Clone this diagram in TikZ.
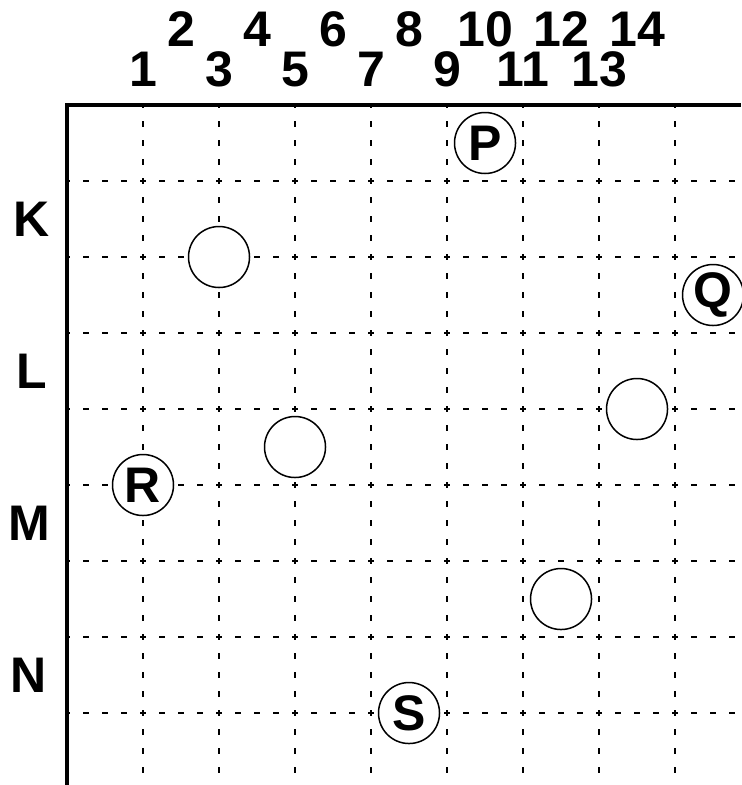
\documentclass[tikz,border=0pt]{standalone}
\usepackage{fontspec}
\setmainfont{Liberation Sans}
\usepackage{tikz}
\usetikzlibrary{positioning}

\begin{document}
\begin{tikzpicture}[
  x=38pt, y=-38pt,
  font=\fontsize{25}{30}\selectfont\bfseries,
  gridline/.style={line width=0.55pt, dash pattern=on 2.8pt off 6.7pt, dash phase=1.4pt},
  axisline/.style={line width=1.8pt, line join=miter},
  spot/.style={draw, circle, fill=white, line width=0.75pt, minimum size=30.5pt, inner sep=0pt},
  lbl/.style={inner sep=0pt}
]
\useasboundingbox (-0.8816,-1.3816) rectangle (8.8684,8.947);
\coordinate (corner) at (0,0);
\coordinate (axisend) at (0,8.947);
\coordinate (axisright) at (8.8684,0);
\foreach \i in {1,...,8} {
  \draw[gridline] (0,\i) -- (8.8684,\i);
  \draw[gridline] (\i,0) -- (\i,8.947);
}
\draw[axisline] (axisend) -- (corner) -- (axisright);
\foreach \k in {1,3,...,13} \node[lbl] (col\k) at ({(\k+1)/2},-0.47) {\k};
\foreach \k in {2,4,...,14} \node[lbl] (col\k) at ({(\k+1)/2},-1.0) {\k};
\node[lbl] (rowK) at (-0.47,1.5) {K};
\node[lbl] (rowL) at (-0.47,3.5) {L};
\node[lbl] (rowM) at (-0.5,5.5) {M};
\node[lbl] (rowN) at (-0.5,7.5) {N};
\node[spot] (P) at (5.5,0.5) {P};
\node[spot] (Q) at (8.5,2.5) {Q};
\node[spot] (R) at (1,5) {R};
\node[spot] (S) at (4.5,8) {S};
\node[spot] (ring1) at (2,2) {};
\node[spot] (ring2) at (7.5,4) {};
\node[spot] (ring3) at (3,4.5) {};
\node[spot] (ring4) at (6.5,6.5) {};
\end{tikzpicture}
\end{document}
